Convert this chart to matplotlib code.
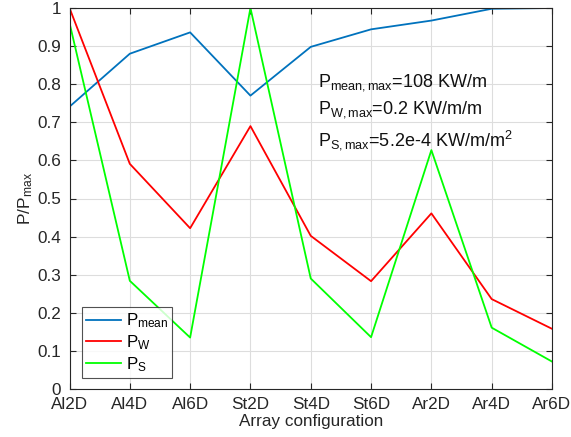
import numpy as np
import matplotlib
matplotlib.use("Agg")
import matplotlib.pyplot as plt

plt.rcParams['font.family'] = ['Liberation Sans', 'DejaVu Sans']
plt.rcParams['mathtext.fontset'] = 'custom'
plt.rcParams['mathtext.rm'] = 'Liberation Sans'
plt.rcParams['mathtext.it'] = 'Liberation Sans'
plt.rcParams['mathtext.default'] = 'rm'

configs = ['Al2D', 'Al4D', 'Al6D', 'St2D', 'St4D', 'St6D', 'Ar2D', 'Ar4D', 'Ar6D']
p_mean = [0.741, 0.880, 0.936, 0.770, 0.898, 0.944, 0.967, 0.998, 1.0]
p_w = [1.0, 0.591, 0.422, 0.690, 0.402, 0.283, 0.461, 0.236, 0.158]
p_s = [0.961, 0.284, 0.135, 1.0, 0.290, 0.136, 0.627, 0.161, 0.072]

fig = plt.figure(figsize=(5.71, 4.37), dpi=100)
ax = fig.add_axes([69.5 / 571, 1 - 389 / 437, (552 - 69.5) / 571, (389 - 8) / 437])

x = np.arange(len(configs))
ax.plot(x, p_mean, color='#0072BD', lw=1.3, label=r'$P_{mean}$')
ax.plot(x, p_w, color='#FF0000', lw=1.3, label=r'$P_W$')
ax.plot(x, p_s, color='#00FF00', lw=1.3, label=r'$P_S$')

ax.set_xlim(0, len(configs) - 1)
ax.set_ylim(0, 1)
ax.set_xticks(x)
ax.set_xticklabels(configs)
ax.set_yticks(np.arange(0, 1.01, 0.1))
ax.set_yticklabels(['0'] + ['%.1f' % v for v in np.arange(0.1, 0.95, 0.1)] + ['1'])
ax.tick_params(direction='in', top=True, right=True, labelsize=12.3,
               colors='#262626', length=4, width=0.8)
ax.tick_params(axis='x', pad=6)
ax.tick_params(axis='y', pad=6)
ax.grid(True, color='#dddddd', lw=0.8)
for s in ax.spines.values():
    s.set_color('#262626')
    s.set_linewidth(0.8)

ax.set_xlabel('Array configuration', fontsize=12.3, color='#262626', labelpad=1)
ax.set_ylabel(r'$P/P_{max}$', fontsize=12.5, color='#262626', labelpad=2)

ax.text(4.12, 0.795, r'$P_{mean,max}$=108 KW/m', fontsize=13, color='#111111', va='baseline')
ax.text(4.12, 0.722, r'$P_{W,max}$=0.2 KW/m/m', fontsize=13, color='#111111', va='baseline')
ax.text(4.12, 0.639, r'$P_{S,max}$=5.2e-4 KW/m/m$^2$', fontsize=13, color='#111111', va='baseline')

leg = ax.legend(loc='lower left', bbox_to_anchor=(0.025, 0.029), fontsize=12.2,
                frameon=True, fancybox=False, edgecolor='#262626',
                handlelength=2.1, handletextpad=0.25, labelspacing=0.18,
                borderpad=0.25, borderaxespad=0)
leg.get_frame().set_linewidth(0.8)

fig.savefig('out.png', dpi=100, facecolor='white')
